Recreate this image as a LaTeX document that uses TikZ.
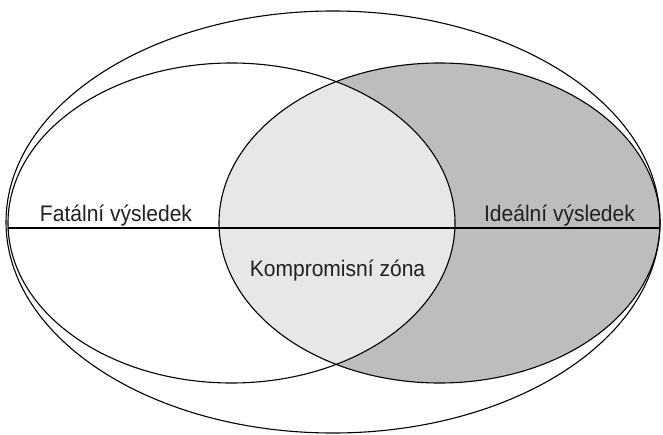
\documentclass[tikz,border=0pt]{standalone}
\usepackage{fontspec}
\setmainfont{Liberation Sans}[FakeStretch=0.935]
\usepackage{tkz-euclide}
\definecolor{IdealClr}{HTML}{BCBDBF}
\definecolor{ZoneClr}{HTML}{E6E7E9}
\definecolor{TextClr}{HTML}{231F20}

\begin{document}
\begin{tikzpicture}[x=1pt,y=1pt,line width=1.1pt,
  lbl/.style={anchor=base,inner sep=0pt,text=TextClr,
    font=\fontsize{22.5}{27}\selectfont}]
\useasboundingbox (0,0) rectangle (663,434);
\tkzSetUpLine[line width=1.1pt,color=black]

\tkzDefPoints{333/212/O,231.5/211/F,439.5/211/I}
\tkzDefPoints{8/206/A,660/206/B}

% ideal result, then the overlap
\fill[IdealClr] (I) ellipse [x radius=220.5,y radius=160];
\begin{scope}
\clip (F) ellipse [x radius=223.5,y radius=160];
\fill[ZoneClr] (I) ellipse [x radius=220.5,y radius=160];
\end{scope}

\draw (O) ellipse [x radius=327,y radius=211];
\draw (F) ellipse [x radius=223.5,y radius=160];
\draw (I) ellipse [x radius=220.5,y radius=160];

\tkzDrawSegment(A,B)

\node[lbl] (fatal) at (116,212.3) {Fatální výsledek};
\node[lbl] (ideal) at (559.5,212.3) {Ideální výsledek};
\node[lbl] (zone) at (337.5,158) {Kompromisní zóna};

\end{tikzpicture}
\end{document}
